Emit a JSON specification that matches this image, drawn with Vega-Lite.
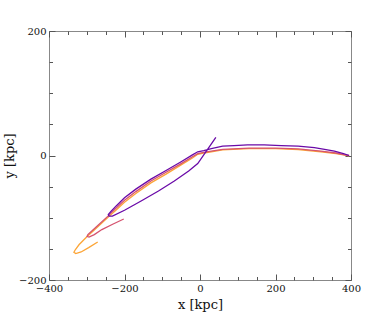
{
  "$schema": "https://vega.github.io/schema/vega-lite/v6.json",
  "width": 302,
  "height": 249,
  "autosize": "none",
  "padding": {"left": 49, "top": 31, "right": 39, "bottom": 32},
  "config": {
    "view": {"stroke": "#888888", "strokeWidth": 1},
    "font": "DejaVu Serif",
    "axis": {
      "domain": false,
      "grid": false,
      "labelFont": "DejaVu Serif",
      "labelFontSize": 10,
      "labelColor": "#111111",
      "titleFont": "DejaVu Serif",
      "titleFontSize": 13,
      "titleFontWeight": "normal",
      "titleColor": "#111111",
      "tickColor": "#555555",
      "tickWidth": 1,
      "labelFlush": false,
      "labelOverlap": false
    }
  },
  "data": {
    "values": [
      {"s": "o", "i": 0, "x": 395, "y": -0.5},
      {"s": "o", "i": 1, "x": 380, "y": 1},
      {"s": "o", "i": 2, "x": 360, "y": 3},
      {"s": "o", "i": 3, "x": 320, "y": 6},
      {"s": "o", "i": 4, "x": 260, "y": 9.5},
      {"s": "o", "i": 5, "x": 200, "y": 11},
      {"s": "o", "i": 6, "x": 130, "y": 11},
      {"s": "o", "i": 7, "x": 60, "y": 9},
      {"s": "o", "i": 8, "x": 30, "y": 6},
      {"s": "o", "i": 9, "x": 10, "y": 4},
      {"s": "o", "i": 10, "x": -6, "y": 2},
      {"s": "o", "i": 11, "x": -20, "y": -4},
      {"s": "o", "i": 12, "x": -50, "y": -15},
      {"s": "o", "i": 13, "x": -90, "y": -30},
      {"s": "o", "i": 14, "x": -130, "y": -44},
      {"s": "o", "i": 15, "x": -170, "y": -61},
      {"s": "o", "i": 16, "x": -200, "y": -75},
      {"s": "o", "i": 17, "x": -225, "y": -89},
      {"s": "o", "i": 18, "x": -243, "y": -99},
      {"s": "o", "i": 19, "x": -270, "y": -114},
      {"s": "o", "i": 20, "x": -299, "y": -130},
      {"s": "o", "i": 21, "x": -320, "y": -143},
      {"s": "o", "i": 22, "x": -330, "y": -151},
      {"s": "o", "i": 23, "x": -334, "y": -155.5},
      {"s": "o", "i": 24, "x": -329, "y": -157.5},
      {"s": "o", "i": 25, "x": -315, "y": -155},
      {"s": "o", "i": 26, "x": -295, "y": -148},
      {"s": "o", "i": 27, "x": -271, "y": -139},
      {"s": "m", "i": 0, "x": 395, "y": 0},
      {"s": "m", "i": 1, "x": 380, "y": 1.5},
      {"s": "m", "i": 2, "x": 360, "y": 4},
      {"s": "m", "i": 3, "x": 320, "y": 7},
      {"s": "m", "i": 4, "x": 260, "y": 10.5},
      {"s": "m", "i": 5, "x": 200, "y": 12},
      {"s": "m", "i": 6, "x": 130, "y": 12},
      {"s": "m", "i": 7, "x": 60, "y": 10},
      {"s": "m", "i": 8, "x": 30, "y": 7},
      {"s": "m", "i": 9, "x": 10, "y": 5},
      {"s": "m", "i": 10, "x": -6, "y": 3},
      {"s": "m", "i": 11, "x": -20, "y": -2},
      {"s": "m", "i": 12, "x": -50, "y": -13},
      {"s": "m", "i": 13, "x": -90, "y": -27},
      {"s": "m", "i": 14, "x": -130, "y": -41},
      {"s": "m", "i": 15, "x": -170, "y": -58},
      {"s": "m", "i": 16, "x": -200, "y": -72},
      {"s": "m", "i": 17, "x": -225, "y": -86},
      {"s": "m", "i": 18, "x": -243, "y": -97},
      {"s": "m", "i": 19, "x": -270, "y": -112},
      {"s": "m", "i": 20, "x": -288, "y": -122},
      {"s": "m", "i": 21, "x": -297, "y": -127},
      {"s": "m", "i": 22, "x": -299, "y": -130},
      {"s": "m", "i": 23, "x": -294, "y": -131},
      {"s": "m", "i": 24, "x": -280, "y": -127},
      {"s": "m", "i": 25, "x": -260, "y": -119},
      {"s": "m", "i": 26, "x": -230, "y": -110},
      {"s": "m", "i": 27, "x": -202, "y": -102},
      {"s": "p", "i": 0, "x": 395, "y": 0},
      {"s": "p", "i": 1, "x": 380, "y": 3},
      {"s": "p", "i": 2, "x": 356, "y": 7},
      {"s": "p", "i": 3, "x": 330, "y": 10},
      {"s": "p", "i": 4, "x": 303, "y": 12.5},
      {"s": "p", "i": 5, "x": 260, "y": 15},
      {"s": "p", "i": 6, "x": 215, "y": 16},
      {"s": "p", "i": 7, "x": 170, "y": 17},
      {"s": "p", "i": 8, "x": 126, "y": 17},
      {"s": "p", "i": 9, "x": 90, "y": 16},
      {"s": "p", "i": 10, "x": 60, "y": 15},
      {"s": "p", "i": 11, "x": 30, "y": 11},
      {"s": "p", "i": 12, "x": 10, "y": 8},
      {"s": "p", "i": 13, "x": -6, "y": 6},
      {"s": "p", "i": 14, "x": -20, "y": 1},
      {"s": "p", "i": 15, "x": -50, "y": -10},
      {"s": "p", "i": 16, "x": -90, "y": -24},
      {"s": "p", "i": 17, "x": -130, "y": -38},
      {"s": "p", "i": 18, "x": -170, "y": -54},
      {"s": "p", "i": 19, "x": -200, "y": -68},
      {"s": "p", "i": 20, "x": -222, "y": -81},
      {"s": "p", "i": 21, "x": -236, "y": -90},
      {"s": "p", "i": 22, "x": -243, "y": -95},
      {"s": "p", "i": 23, "x": -241, "y": -97.5},
      {"s": "p", "i": 24, "x": -232, "y": -97.5},
      {"s": "p", "i": 25, "x": -200, "y": -88},
      {"s": "p", "i": 26, "x": -156, "y": -73},
      {"s": "p", "i": 27, "x": -110, "y": -57},
      {"s": "p", "i": 28, "x": -68, "y": -41},
      {"s": "p", "i": 29, "x": -30, "y": -25},
      {"s": "p", "i": 30, "x": -6, "y": -13},
      {"s": "p", "i": 31, "x": 42, "y": 29}
    ]
  },
  "resolve": {"axis": {"x": "independent", "y": "independent"}},
  "layer": [
    {
      "mark": {"type": "line", "strokeWidth": 1.3, "clip": true},
      "encoding": {
        "x": {
          "field": "x", "type": "quantitative",
          "scale": {"domain": [-400, 400], "nice": false, "zero": false},
          "axis": {
            "orient": "bottom",
            "title": "x [kpc]",
            "values": [-400, -350, -300, -250, -200, -150, -100, -50, 0, 50, 100, 150, 200, 250, 300, 350, 400],
            "labelExpr": "datum.value % 200 === 0 ? datum.label : ''",
            "tickSize": {"condition": {"test": "datum.value % 200 === 0", "value": -6}, "value": -3.5},
            "labelPadding": 9,
            "titlePadding": 3
          }
        },
        "y": {
          "field": "y", "type": "quantitative",
          "scale": {"domain": [-200, 200], "nice": false, "zero": false},
          "axis": {
            "orient": "left",
            "title": "y [kpc]",
            "values": [-200, -150, -100, -50, 0, 50, 100, 150, 200],
            "labelExpr": "datum.value % 200 === 0 ? datum.label : ''",
            "tickSize": {"condition": {"test": "datum.value % 200 === 0", "value": -6}, "value": -3.5},
            "labelPadding": 9,
            "titlePadding": 2
          }
        },
        "color": {
          "field": "s", "type": "nominal",
          "scale": {"domain": ["o", "m", "p"], "range": ["#fca537", "#d5536f", "#6a0aa8"]},
          "legend": null
        },
        "order": {"field": "i", "type": "quantitative"}
      }
    },
    {
      "mark": {"type": "line", "strokeOpacity": 0},
      "encoding": {
        "x": {
          "field": "x", "type": "quantitative",
          "axis": {
            "orient": "top",
            "title": null,
            "labels": false,
            "values": [-400, -350, -300, -250, -200, -150, -100, -50, 0, 50, 100, 150, 200, 250, 300, 350, 400],
            "tickSize": {"condition": {"test": "datum.value % 200 === 0", "value": -6}, "value": -3.5}
          }
        },
        "y": {
          "field": "y", "type": "quantitative",
          "axis": {
            "orient": "right",
            "title": null,
            "labels": false,
            "values": [-200, -150, -100, -50, 0, 50, 100, 150, 200],
            "tickSize": {"condition": {"test": "datum.value % 200 === 0", "value": -6}, "value": -3.5}
          }
        },
        "detail": {"field": "s"},
        "order": {"field": "i", "type": "quantitative"}
      }
    }
  ]
}
